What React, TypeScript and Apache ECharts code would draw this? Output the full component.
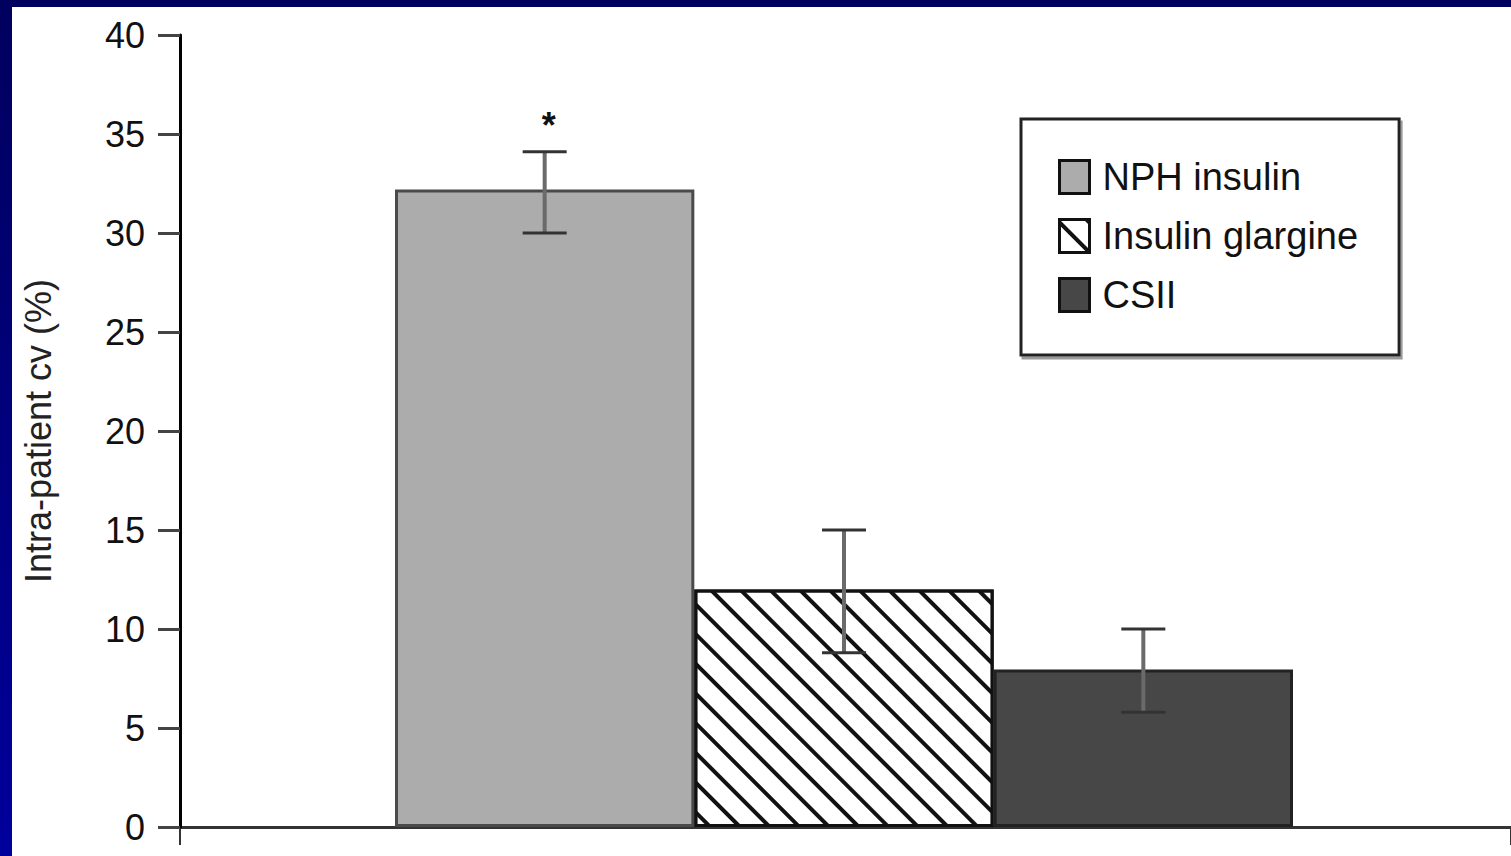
import React, { useEffect, useRef } from "react";
import * as echarts from "echarts";

const categories = ["NPH insulin", "Insulin glargine", "CSII"];
const means = [32.2, 12.0, 7.95];
const errLow = [30.0, 8.8, 5.8];
const errHigh = [34.1, 15.0, 10.0];
const marks = ["*", "", ""];
const yTicks = { min: 0, max: 40, interval: 5 };
const yTitle = "Intra-patient cv (%)";

const FONT = "'Liberation Sans', Arial, sans-serif";

export default function App() {
  const ref = useRef<HTMLDivElement>(null);
  useEffect(() => {
    document.body.style.margin = "0";
    const chart = echarts.init(ref.current!, null, { renderer: "svg" });
    const fills = ["#acacac", "#ffffff", "#474747"];
    const borders = ["#4a4a4a", "#111111", "#222222"];
    const barSeries = categories.map((name, i) => ({
      name,
      type: "bar",
      xAxisIndex: 1,
      yAxisIndex: 1,
      stack: "all",
      barWidth: "100%",
      data: categories.map((_, j) => (j === i ? means[i] : null)),
      itemStyle: {
        color: fills[i],
        borderColor: borders[i],
        borderWidth: 3,
        decal:
          i === 1
            ? {
                symbol: "rect",
                symbolSize: 1,
                color: "#111",
                backgroundColor: "rgba(0,0,0,0)",
                dashArrayX: [1, 0],
                dashArrayY: [3.5, 16.5],
                rotation: Math.PI / 4,
              }
            : "none",
      },
      z: 2,
    }));
    const option: any = {
      animation: false,
      backgroundColor: "#ffffff",
      textStyle: { fontFamily: FONT },
      grid: [
        { left: 168, right: 0, top: 28, bottom: 29, outerBoundsMode: "none", containLabel: false },
        { left: 383, right: 218, top: 28, bottom: 29, outerBoundsMode: "none", containLabel: false },
      ],
      xAxis: [
        {
          gridIndex: 0,
          type: "category",
          data: [""],
          axisLine: { lineStyle: { color: "#333", width: 3 } },
          axisTick: { show: true, length: 18, lineStyle: { color: "#333", width: 2 } },
          axisLabel: { show: false },
          splitLine: { show: false },
        },
        {
          gridIndex: 1,
          type: "category",
          data: categories,
          show: false,
        },
      ],
      yAxis: [
        {
          gridIndex: 0,
          type: "value",
          min: yTicks.min,
          max: yTicks.max,
          interval: yTicks.interval,
          name: yTitle,
          nameLocation: "middle",
          nameRotate: 90,
          nameGap: 124,
          nameTextStyle: { fontSize: 36, color: "#222", fontFamily: FONT },
          axisLine: { show: true, lineStyle: { color: "#000", width: 3 } },
          axisTick: { show: true, length: 22, lineStyle: { color: "#444", width: 3 } },
          axisLabel: { fontSize: 36, color: "#111", margin: 35, fontFamily: FONT },
          splitLine: { show: false },
          z: 5,
        },
        {
          gridIndex: 1,
          type: "value",
          min: yTicks.min,
          max: yTicks.max,
          show: false,
        },
      ],
      legend: {
        orient: "vertical",
        left: 1009,
        top: 112,
        data: categories,
        icon: "rect",
        itemWidth: 30,
        itemHeight: 33,
        itemGap: 21,
        padding: [39, 41, 41, 37],
        backgroundColor: "#fff",
        borderColor: "#222",
        borderWidth: 3,
        shadowColor: "#999",
        shadowOffsetX: 2,
        shadowOffsetY: 3,
        shadowBlur: 0,
        itemStyle: { borderColor: "#111", borderWidth: 3 },
        textStyle: { fontSize: 38, color: "#111", fontFamily: FONT, lineHeight: 38, padding: [0, 0, 0, 8] },
        selectedMode: false,
      },
      series: [
        ...barSeries,
        {
          type: "custom",
          xAxisIndex: 1,
          yAxisIndex: 1,
          z: 10,
          data: categories.map((_, i) => [i, errLow[i], errHigh[i], marks[i]]),
          renderItem: (params: any, api: any) => {
            const idx = api.value(0);
            const hi = api.coord([idx, api.value(2)]);
            const lo = api.coord([idx, api.value(1)]);
            const x = hi[0];
            const cap = 22;
            const mark = marks[params.dataIndex];
            const children: any[] = [
              { type: "line", shape: { x1: x, y1: hi[1], x2: x, y2: lo[1] }, style: { stroke: "#6a6a6a", lineWidth: 4 } },
              { type: "line", shape: { x1: x - cap, y1: hi[1], x2: x + cap, y2: hi[1] }, style: { stroke: "#333", lineWidth: 3 } },
              { type: "line", shape: { x1: x - cap, y1: lo[1], x2: x + cap, y2: lo[1] }, style: { stroke: "#333", lineWidth: 3 } },
            ];
            if (mark) {
              children.push({
                type: "text",
                x: x + 4,
                y: hi[1] - 26,
                style: { text: mark, fontSize: 36, fontWeight: "bold", fontFamily: FONT, fill: "#111", align: "center", verticalAlign: "middle" },
              });
            }
            return { type: "group", children };
          },
        },
      ],
    };
    chart.setOption(option);
    return () => chart.dispose();
  }, []);
  return (
    <div
      style={{
        position: "fixed",
        left: 0,
        top: 0,
        width: 1511,
        height: 856,
        background: "linear-gradient(to bottom, #00005e, #00009c)",
      }}
    >
      <div ref={ref} style={{ position: "absolute", left: 12, top: 7, width: 1499, height: 849 }} />
    </div>
  );
}
